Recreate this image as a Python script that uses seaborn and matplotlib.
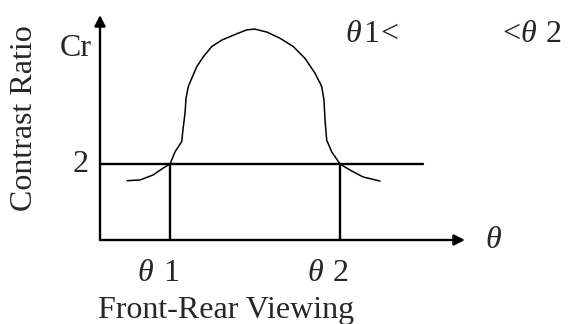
import matplotlib
matplotlib.use("Agg")
import matplotlib.pyplot as plt
import seaborn as sns
import pandas as pd

# Contrast ratio vs. front-rear viewing angle (arbitrary angle units)
theta = [2.7, 4.0, 5.3, 6.3, 7.0, 7.5, 8.17, 8.33, 8.5, 8.6, 8.83, 9.17, 9.67,
         10.33, 11.17, 12.17, 13.33, 14.67, 15.5, 16.7, 18.0, 19.33, 20.5, 21.5,
         22.17, 22.4, 22.5, 22.67, 23.17, 24.0, 25.0, 26.3, 28.0]
contrast = [1.56, 1.58, 1.71, 1.89, 2.0, 2.32, 2.59, 2.98, 3.33, 3.73, 4.04, 4.25,
            4.56, 4.82, 5.09, 5.26, 5.39, 5.53, 5.55, 5.47, 5.31, 5.09, 4.78, 4.39,
            4.04, 3.68, 3.16, 2.63, 2.32, 2.0, 1.84, 1.66, 1.55]
threshold = 2
theta1 = 7
theta2 = 24
theta_axis_end = 36.5
cr_axis_end = 5.92
threshold_end = 32.3

sns.set_theme(style="white")
plt.rcParams["font.family"] = ["Liberation Serif", "DejaVu Serif"]

fig = plt.figure(figsize=(5.68, 3.24), dpi=100)
ax = fig.add_axes([0, 0, 1, 1])
ax.set_xlim(-10, 46.8)
ax.set_ylim(-84 / 38, 240 / 38)
ax.axis("off")

df = pd.DataFrame({"theta": theta, "Cr": contrast})
sns.lineplot(data=df, x="theta", y="Cr", ax=ax, color="black", lw=1.1,
             sort=False, estimator=None)

# coordinate axes with arrowheads
arrow = dict(arrowstyle="-|>", lw=1.7, color="black", mutation_scale=16,
             shrinkA=0, shrinkB=0)
ax.annotate("", xy=(theta_axis_end, 0), xytext=(0, 0), arrowprops=arrow)
ax.annotate("", xy=(0, cr_axis_end), xytext=(0, 0), arrowprops=arrow)

# threshold line and crossing angles
ax.plot([0, threshold_end], [threshold, threshold], color="black", lw=1.7)
ax.plot([theta1, theta1], [0, threshold], color="black", lw=1.7)
ax.plot([theta2, theta2], [0, threshold], color="black", lw=1.7)

fs = 23
ax.text(-2.4, 5.05, "Cr", fontsize=fs, ha="center", va="center")
ax.text(-1.9, threshold, "2", fontsize=fs, ha="center", va="center")
ax.text(-7.6, 3.2, "Contrast Ratio", fontsize=fs, ha="center", va="center",
        rotation=90)
for th, digit in ((theta1, "1"), (theta2, "2")):
    ax.text(th - 2.5, -0.88, "θ", fontsize=fs, ha="center", va="center", style="italic")
    ax.text(th + 0.1, -0.88, digit, fontsize=fs, ha="center", va="center")
ax.text(39.3, 0, "θ", fontsize=fs, ha="center", va="center", style="italic")
ax.text(12.6, -2.04, "Front-Rear Viewing", fontsize=fs, ha="center", va="baseline")
ax.text(24.5, 5.4, "θ", fontsize=fs, ha="left", va="center", style="italic")
ax.text(26.3, 5.4, "1", fontsize=fs, ha="left", va="center")
ax.text(28.0, 5.4, "<", fontsize=fs, ha="left", va="center")
ax.text(40.2, 5.4, "<", fontsize=fs, ha="left", va="center")
ax.text(42.0, 5.4, "θ", fontsize=fs, ha="left", va="center", style="italic")
ax.text(44.6, 5.4, "2", fontsize=fs, ha="left", va="center")

fig.savefig("out.png", dpi=100, facecolor="white")
